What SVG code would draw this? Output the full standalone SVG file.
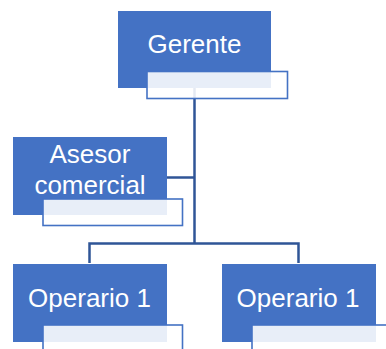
<svg xmlns="http://www.w3.org/2000/svg" width="386" height="349" viewBox="0 0 386 349">
<style>
.box{fill:#4472C4}
.tb{fill:#FFFFFF;fill-opacity:0.88;stroke:#4472C4;stroke-width:1.6}
.lbl{font-family:"Liberation Sans",Arial,sans-serif;font-size:26px;fill:#FFFFFF;text-anchor:middle}
.con{fill:none;stroke:#2F5597;stroke-width:2.5}
</style>
<rect width="386" height="349" fill="#FFFFFF"/>
<g id="connectors">
<path class="con" d="M194.5 88 V243.5"/>
<path class="con" d="M167 177.5 H194.5"/>
<path class="con" d="M89.5 263 V243.5 H298.5 V263"/>
</g>
<g id="gerente">
<rect class="box" x="118" y="11" width="153" height="77"/>
<text class="lbl" x="194.5" y="53">Gerente</text>
<rect class="tb" x="147" y="71.5" width="140.5" height="27"/>
</g>
<g id="asesor">
<rect class="box" x="13" y="137" width="154" height="78"/>
<text class="lbl" x="90" y="163">Asesor</text>
<text class="lbl" x="90" y="194">comercial</text>
<rect class="tb" x="43" y="199" width="139.5" height="26.5"/>
</g>
<g id="operario1a">
<rect class="box" x="13" y="264" width="154" height="78"/>
<text class="lbl" x="89.5" y="307">Operario 1</text>
<rect class="tb" x="43" y="325" width="139.5" height="30"/>
</g>
<g id="operario1b">
<rect class="box" x="222" y="264" width="154" height="78"/>
<text class="lbl" x="298" y="307">Operario 1</text>
<rect class="tb" x="252" y="325" width="139.5" height="30"/>
</g>
</svg>
